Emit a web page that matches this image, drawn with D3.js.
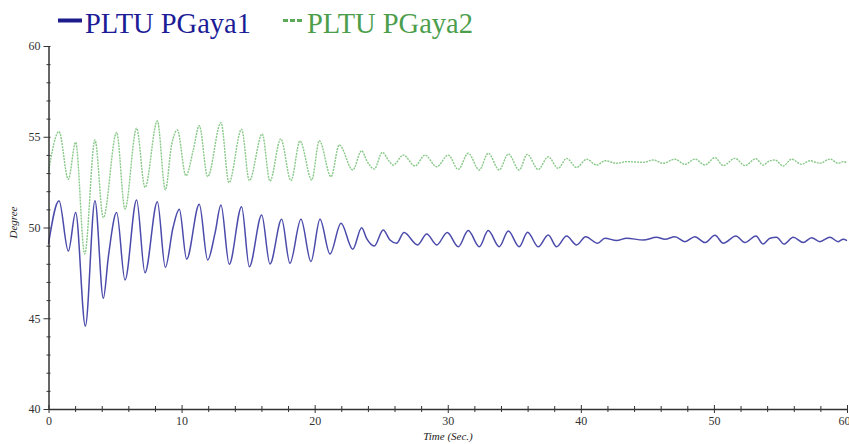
<!DOCTYPE html>
<html>
<head>
<meta charset="utf-8">
<script src="https://cdn.jsdelivr.net/npm/d3@7"></script>
<style>
  html, body { margin: 0; padding: 0; background: #ffffff; }
  svg { display: block; }
</style>
</head>
<body>
<script>
// Rotor angle (degrees) of the two generators after the disturbance.
const pgaya1Time = [0, 0.79, 1.49, 2.04, 2.77, 3.49, 4.12, 4.5, 5.12, 5.75, 6.62, 7.25, 8.18, 8.78, 9.35, 9.83,
  10.38, 11.33, 11.96, 12.51, 12.96, 13.58, 14.51, 15.09, 16.02, 16.64, 17.52, 18.14, 18.97, 19.72,
  20.4, 21.15, 21.98, 22.86, 23.53, 23.9, 24.48, 25.15, 25.66, 26.16, 26.71, 27.74, 28.42, 29.17, 29.96,
  30.79, 31.54, 32.37, 33.04, 33.87, 34.55, 35.37, 36.0, 36.8, 37.55, 38.18, 38.93, 39.68,
  40.36, 41.26, 41.81, 42.69, 43.44, 44.69, 45.69, 46.32, 47.07, 47.82, 48.57, 49.32,
  50.08, 50.7, 51.65, 52.33, 53.16, 53.7, 54.21, 54.71, 55.26, 55.96, 56.71, 57.34, 57.96, 58.72, 59.34, 59.71, 60];
const pgaya1Deg = [49.1, 51.48, 48.7, 50.82, 44.57, 51.48, 46.1, 48.4, 50.82, 47.11, 51.52, 47.51, 51.42, 47.8, 49.97, 51.0,
  48.26, 51.28, 48.21, 49.68, 51.24, 47.97, 51.15, 47.84, 50.69, 47.99, 50.45, 48.03, 50.45, 48.12,
  50.45, 48.54, 50.23, 48.8, 49.99, 49.4, 48.98, 49.86, 49.31, 49.13, 49.72, 49.04, 49.64, 49.04, 49.72,
  48.94, 49.83, 48.94, 49.83, 48.94, 49.81, 48.94, 49.74, 48.94, 49.59, 48.94, 49.53, 49.04,
  49.49, 49.13, 49.41, 49.28, 49.41, 49.31, 49.46, 49.35, 49.49, 49.22, 49.49, 49.17,
  49.57, 49.13, 49.53, 49.17, 49.53, 49.09, 49.41, 49.46, 49.09, 49.46, 49.17, 49.44, 49.22, 49.46, 49.22, 49.35, 49.28];

const pgaya2Time = [0, 0.79, 1.49, 2.04, 2.72, 3.49, 4.12, 5.12, 5.75, 6.62, 7.25, 8.18, 8.78, 9.25, 9.68,
  10.33, 10.88, 11.33, 11.96, 12.96, 13.56, 14.51, 15.09, 16.06, 16.64, 17.45, 18.22, 18.9, 19.78,
  20.35, 21.23, 21.85, 22.86, 23.53, 23.9, 24.48, 25.08, 25.6, 25.9, 26.66, 27.54, 28.29, 29.17,
  30.04, 30.79, 31.54, 32.37, 33.04, 33.87, 34.55, 35.37, 35.97, 36.8, 37.55, 38.3, 38.93, 39.68,
  40.44, 41.19, 41.81, 42.69, 43.44, 44.69, 45.44, 46.19, 47.07, 47.82, 48.57, 49.32,
  50.08, 50.7, 51.58, 52.33, 53.16, 53.7, 54.08, 54.58, 55.21, 55.84, 56.59, 57.21, 57.96, 58.72, 59.34, 59.71, 60];
const pgaya2Deg = [53.08, 55.28, 52.66, 54.69, 48.54, 54.82, 50.54, 55.24, 51.02, 55.47, 52.21, 55.87, 52.07, 54.55, 55.37,
  52.85, 54.27, 55.61, 52.8, 55.78, 52.47, 55.41, 52.58, 55.15, 52.56, 54.88, 52.58, 54.77, 52.62,
  54.78, 52.8, 54.55, 53.17, 54.23, 53.7, 53.22, 54.14, 53.65, 53.44, 53.99, 53.39, 53.99, 53.35,
  53.99, 53.2, 54.09, 53.17, 54.09, 53.17, 54.05, 53.17, 54.03, 53.2, 53.9, 53.26, 53.81, 53.31,
  53.76, 53.44, 53.68, 53.54, 53.63, 53.59, 53.72, 53.54, 53.76, 53.48, 53.77, 53.44,
  53.85, 53.41, 53.81, 53.41, 53.79, 53.44, 53.63, 53.72, 53.39, 53.76, 53.48, 53.68, 53.54, 53.77, 53.54, 53.63, 53.56];

const seriesNames = ["PLTU PGaya1", "PLTU PGaya2"];
const xMajorTicks = [0, 10, 20, 30, 40, 50, 60];
const xMinorTicks = d3.range(0, 61, 2).filter(v => v % 10 !== 0);
const yMajorTicks = [40, 45, 50, 55, 60];
const yMinorTicks = d3.range(40, 61, 1).filter(v => v % 5 !== 0);

const W = 849, H = 444;
const svg = d3.select("body").append("svg").attr("width", W).attr("height", H);
svg.append("rect").attr("width", W).attr("height", H).attr("fill", "#fff");

const x = d3.scaleLinear().domain([0, 60]).range([48.5, 847]);
const y = d3.scaleLinear().domain([40, 60]).range([409, 46]);

const serif = "'Liberation Serif', 'Times New Roman', serif";
const axisColor = "#333";

// --- series ---
const line = d3.line()
  .x(d => x(d[0]))
  .y(d => y(d[1]))
  .curve(d3.curveMonotoneX);

const green = d3.zip(pgaya2Time, pgaya2Deg);
const blue = d3.zip(pgaya1Time, pgaya1Deg);

svg.append("path").datum(green)
  .attr("d", line).attr("fill", "none")
  .attr("stroke", "#88c888").attr("stroke-width", 1.4)
  .attr("stroke-dasharray", "2,1");

svg.append("path").datum(blue)
  .attr("d", line).attr("fill", "none")
  .attr("stroke", "#4b4bab").attr("stroke-width", 1.5);

// --- axes ---
function styleAxis(g) {
  g.selectAll("path.domain").attr("stroke", axisColor).attr("stroke-width", 1.5);
  g.selectAll(".tick line").attr("stroke", axisColor).attr("stroke-width", 1);
  g.selectAll(".tick text").attr("fill", "#333").style("font-family", serif).style("font-size", "12px");
}

const gxMinor = svg.append("g").attr("transform", `translate(0,${y(40)})`)
  .call(d3.axisBottom(x).tickValues(xMinorTicks).tickFormat("").tickSize(3).tickSizeOuter(0));
gxMinor.select("path.domain").remove();
gxMinor.selectAll(".tick line").attr("y1", -3).attr("stroke", axisColor);

const gx = svg.append("g").attr("transform", `translate(0,${y(40)})`)
  .call(d3.axisBottom(x).tickValues(xMajorTicks).tickFormat(d3.format("d")).tickSize(4).tickSizeOuter(0).tickPadding(3));
gx.selectAll(".tick line").attr("y1", -4);
styleAxis(gx);
// keep the last label inside the right edge
gx.selectAll(".tick text").filter(d => d === 60).attr("text-anchor", "end").attr("dx", "3");

const gyMinor = svg.append("g").attr("transform", `translate(${x(0)},0)`)
  .call(d3.axisLeft(y).tickValues(yMinorTicks).tickFormat("").tickSize(2).tickSizeOuter(0));
gyMinor.select("path.domain").remove();
gyMinor.selectAll(".tick line").attr("x1", 2).attr("stroke", axisColor);

const gy = svg.append("g").attr("transform", `translate(${x(0)},0)`)
  .call(d3.axisLeft(y).tickValues(yMajorTicks).tickFormat(d3.format("d")).tickSize(5).tickSizeOuter(0).tickPadding(3));
gy.selectAll(".tick line").attr("x1", 2);
styleAxis(gy);

// axis titles
svg.append("text")
  .attr("transform", `translate(17,${y(50) - 5}) rotate(-90)`)
  .attr("text-anchor", "middle")
  .style("font-family", serif).style("font-style", "italic").style("font-size", "11px")
  .attr("fill", "#222").text("Degree");

svg.append("text")
  .attr("x", 448).attr("y", 440)
  .attr("text-anchor", "middle")
  .style("font-family", serif).style("font-style", "italic").style("font-size", "11px")
  .attr("fill", "#222").text("Time (Sec.)");

// --- legend ---
const legend = svg.append("g");
legend.append("line").attr("x1", 58).attr("x2", 82).attr("y1", 20.5).attr("y2", 20.5)
  .attr("stroke", "#1c1c8c").attr("stroke-width", 4);
legend.append("text").attr("x", 85).attr("y", 33)
  .style("font-family", serif).style("font-size", "28.5px")
  .attr("fill", "#1c1c96").text(seriesNames[0]);
legend.append("line").attr("x1", 283).attr("x2", 302).attr("y1", 20.5).attr("y2", 20.5)
  .attr("stroke", "#5aaa5a").attr("stroke-width", 3).attr("stroke-dasharray", "5,2");
legend.append("text").attr("x", 307).attr("y", 33)
  .style("font-family", serif).style("font-size", "28.5px")
  .attr("fill", "#4c9e4c").text(seriesNames[1]);
</script>
</body>
</html>
